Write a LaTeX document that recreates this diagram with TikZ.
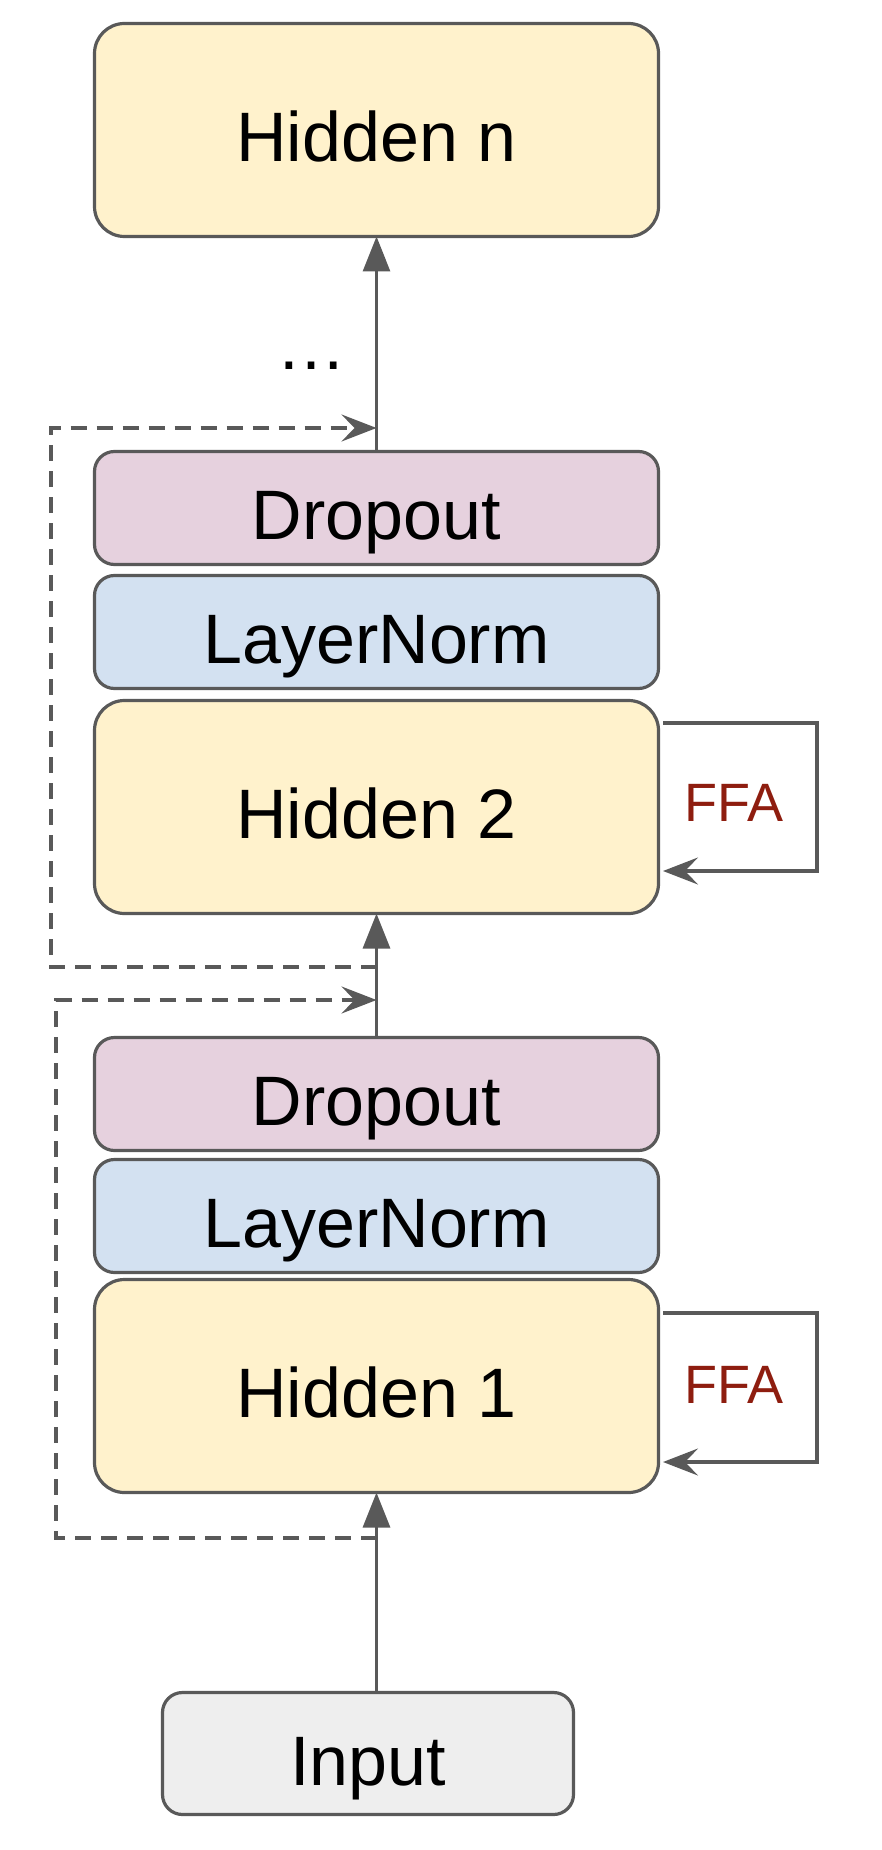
\documentclass[tikz,border=0pt]{standalone}
\usepackage{fontspec}
\setmainfont{Liberation Sans}
\usepackage{tikz}
\usetikzlibrary{arrows.meta, positioning, calc}
\definecolor{hidyellow}{HTML}{FFF2CC}
\definecolor{droppink}{HTML}{E6D1DE}
\definecolor{normblue}{HTML}{D3E1F1}
\definecolor{inpgray}{HTML}{EEEEEE}
\definecolor{edgegray}{HTML}{595959}
\definecolor{ffared}{HTML}{8E1D0F}

\begin{document}
\begin{tikzpicture}[
  hid/.style={rectangle, draw=edgegray, fill=hidyellow, line width=1.6pt, minimum width=282pt, minimum height=106.5pt, rounded corners=15pt, align=center, outer sep=0pt, font=\fontsize{35}{42}\selectfont, text height=31.5pt, text depth=0pt},
  slab/.style={hid, minimum height=56.5pt, rounded corners=10pt},
  ibox/.style={hid, fill=inpgray, minimum width=205.5pt, minimum height=61pt, rounded corners=10pt},
  arrow/.style={-{Triangle[length=17.5pt, width=13.5pt]}, line width=1.6pt, draw=edgegray},
  skip/.style={-{Stealth[length=17.5pt, width=13.5pt, inset=6.5pt]}, line width=1.6pt, draw=edgegray, dash pattern=on 8pt off 5pt},
  ffaloop/.style={-{Stealth[length=17.5pt, width=13.5pt, inset=6.5pt]}, line width=1.6pt, draw=edgegray},
  lab/.style={font=\fontsize{27}{32}\selectfont, text=ffared}
]
\useasboundingbox (0,0) rectangle (441pt,-925pt);

% Stack
\node[hid] (hidn) at (188.25pt,-65pt) {Hidden n};
\node[slab, fill=droppink, below=107.5pt of hidn] (drop2) {Dropout};
\node[slab, fill=normblue, below=5.5pt of drop2] (norm2) {LayerNorm};
\node[hid, below=6pt of norm2] (hid2) {Hidden 2};
\node[slab, fill=droppink, below=62pt of hid2] (drop1) {Dropout};
\node[slab, fill=normblue, below=4.5pt of drop1] (norm1) {LayerNorm};
\node[hid, below=3.5pt of norm1] (hid1) {Hidden 1};
\node[ibox, below=100pt of hid1, xshift=-4.25pt] (input) {Input};

\node[anchor=base, font=\fontsize{35}{42}\selectfont] (more) at (155.5pt,-185pt) {…};

% Arrows
\draw[arrow] (input.north -| hid1.south) -- (hid1.south);
\draw[arrow] (drop1.north) -- (hid2.south);
\draw[arrow] (drop2.north) -- (hidn.south);

% Residual paths
\coordinate (res1) at ($(hid1.south)+(0,-22.75pt)$);
\coordinate (in1) at ($(drop1.north)+(0,18.75pt)$);
\coordinate (res2) at ($(hid2.south)+(0,-26.75pt)$);
\coordinate (in2) at ($(drop2.north)+(0,11.75pt)$);
\draw[skip] (res1) -- ++(-160.25pt,0) |- (in1);
\draw[skip] (res2) -- ++(-162.75pt,0) |- (in2);

% FFA loops
\draw[ffaloop] ([shift={(2.25pt,42pt)}]hid2.east) -- ++(77pt,0) |- ([shift={(2.25pt,-32pt)}]hid2.east);
\node[lab] (ffa2) at ([shift={(37.75pt,2pt)}]hid2.east) {FFA};
\draw[ffaloop] ([shift={(2.25pt,36.5pt)}]hid1.east) -- ++(77pt,0) |- ([shift={(2.25pt,-38pt)}]hid1.east);
\node[lab] (ffa1) at ([shift={(37.75pt,0.5pt)}]hid1.east) {FFA};

\end{tikzpicture}
\end{document}
